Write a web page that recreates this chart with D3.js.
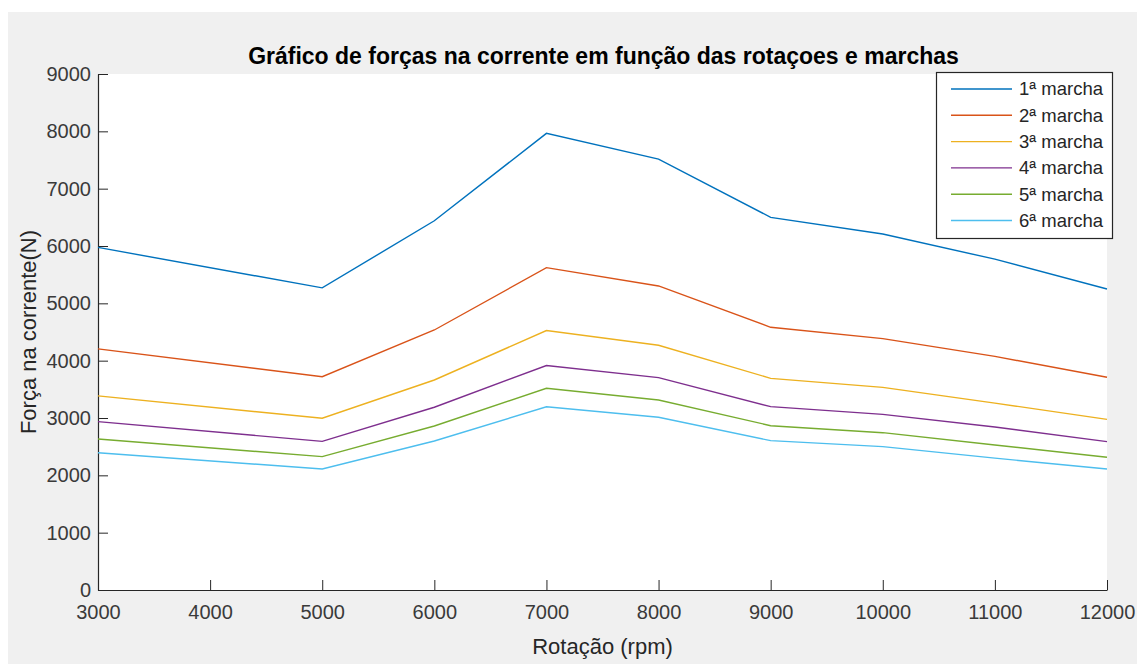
<!DOCTYPE html>
<html lang="pt">

<head>
    <meta charset="UTF-8">
    <title>Forças na corrente</title>
    <script src="https://d3js.org/d3.v7.min.js"></script>
</head>
<style>
    body { margin: 0; background: #fff; }
    text { font-family: "Liberation Sans", Arial, sans-serif; }
</style>

<body>
    <svg class="chart"></svg>
</body>

<script>
    // rotações (rpm) - não há ponto em 4000
    const rotacoes = [3000, 5000, 6000, 7000, 8000, 9000, 10000, 11000, 12000]
    const marchas = ['1ª marcha', '2ª marcha', '3ª marcha', '4ª marcha', '5ª marcha', '6ª marcha']
    const marcha1 = [5975, 5270, 6440, 7965, 7515, 6500, 6210, 5770, 5250]
    const marcha2 = [4205, 3720, 4535, 5622, 5303, 4582, 4384, 4075, 3710]
    const marcha3 = [3385, 2995, 3663, 4525, 4268, 3692, 3535, 3260, 2977]
    const marcha4 = [2936, 2593, 3187, 3916, 3704, 3198, 3064, 2843, 2587]
    const marcha5 = [2634, 2326, 2861, 3518, 3314, 2866, 2744, 2530, 2315]
    const marcha6 = [2395, 2110, 2599, 3195, 3012, 2605, 2500, 2300, 2110]
    const series = [marcha1, marcha2, marcha3, marcha4, marcha5, marcha6]
    const xTicks = d3.range(3000, 12001, 1000)
    const yTicks = d3.range(0, 9001, 1000)
    const colors = ['#0072BD', '#D95319', '#EDB120', '#7E2F8E', '#77AC30', '#4DBEEE']

    const W = 1137, H = 664
    const plot = { left: 98, right: 1107, top: 74, bottom: 590 }
    const ink = '#262626'

    const svg = d3.select('.chart').attr('width', W).attr('height', H)

    // fundo da figura (cinzento MATLAB)
    svg.append('rect').attr('x', 8).attr('y', 12).attr('width', W - 8).attr('height', H - 12).attr('fill', '#f0f0f0')
    svg.append('rect').attr('x', plot.left).attr('y', plot.top)
        .attr('width', plot.right - plot.left).attr('height', plot.bottom - plot.top).attr('fill', '#fff')

    const x = d3.scaleLinear().domain([3000, 12000]).range([plot.left, plot.right])
    const y = d3.scaleLinear().domain([0, 9000]).range([plot.bottom, plot.top])

    const xAxis = svg.append('g').attr('transform', `translate(0,${plot.bottom})`)
        .call(d3.axisBottom(x).tickValues(xTicks).tickFormat(d3.format('d'))
            .tickSizeInner(-10).tickSizeOuter(0).tickPadding(15))
    const yAxis = svg.append('g').attr('transform', `translate(${plot.left},0)`)
        .call(d3.axisLeft(y).tickValues(yTicks).tickFormat(d3.format('d'))
            .tickSizeInner(-10).tickSizeOuter(0).tickPadding(7))
    ;[xAxis, yAxis].forEach(a => {
        a.attr('color', ink)
        a.selectAll('text').attr('font-size', 20).attr('fill', '#3a3a3a')
            .attr('font-family', '"Liberation Sans", Arial, sans-serif')
        a.select('.domain').attr('stroke-width', 1.2)
    })

    const line = d3.line().x((d, i) => x(rotacoes[i])).y(d => y(d))
    svg.append('g').selectAll('path').data(series).join('path')
        .attr('d', line)
        .attr('fill', 'none')
        .attr('stroke', (d, i) => colors[i])
        .attr('stroke-width', 1.4)

    // títulos
    svg.append('text').attr('x', (plot.left + plot.right) / 2 + 1).attr('y', 64)
        .attr('text-anchor', 'middle').attr('font-weight', 'bold').attr('font-size', 23).attr('fill', '#000')
        .text('Gráfico de forças na corrente em função das rotaçoes e marchas')
    svg.append('text').attr('x', (plot.left + plot.right) / 2).attr('y', 654)
        .attr('text-anchor', 'middle').attr('font-size', 22).attr('fill', ink)
        .text('Rotação (rpm)')
    svg.append('text').attr('transform', `translate(36,${(plot.top + plot.bottom) / 2}) rotate(-90)`)
        .attr('text-anchor', 'middle').attr('font-size', 22).attr('fill', ink)
        .text('Força na corrente(N)')

    // legenda
    const leg = svg.append('g').attr('transform', 'translate(936,72)')
    leg.append('rect').attr('x', 0.5).attr('y', 0.5).attr('width', 176).attr('height', 166)
        .attr('fill', '#fff').attr('stroke', ink).attr('stroke-width', 1.2)
    const item = leg.selectAll('g.item').data(marchas).join('g').attr('class', 'item')
        .attr('transform', (d, i) => `translate(0,${17 + i * 26.3})`)
    item.append('line').attr('x1', 15).attr('x2', 76).attr('stroke', (d, i) => colors[i]).attr('stroke-width', 1.4)
    item.append('text').attr('x', 83).attr('dy', '0.35em').attr('font-size', 18.5).attr('fill', ink).text(d => d)
</script>

</html>
